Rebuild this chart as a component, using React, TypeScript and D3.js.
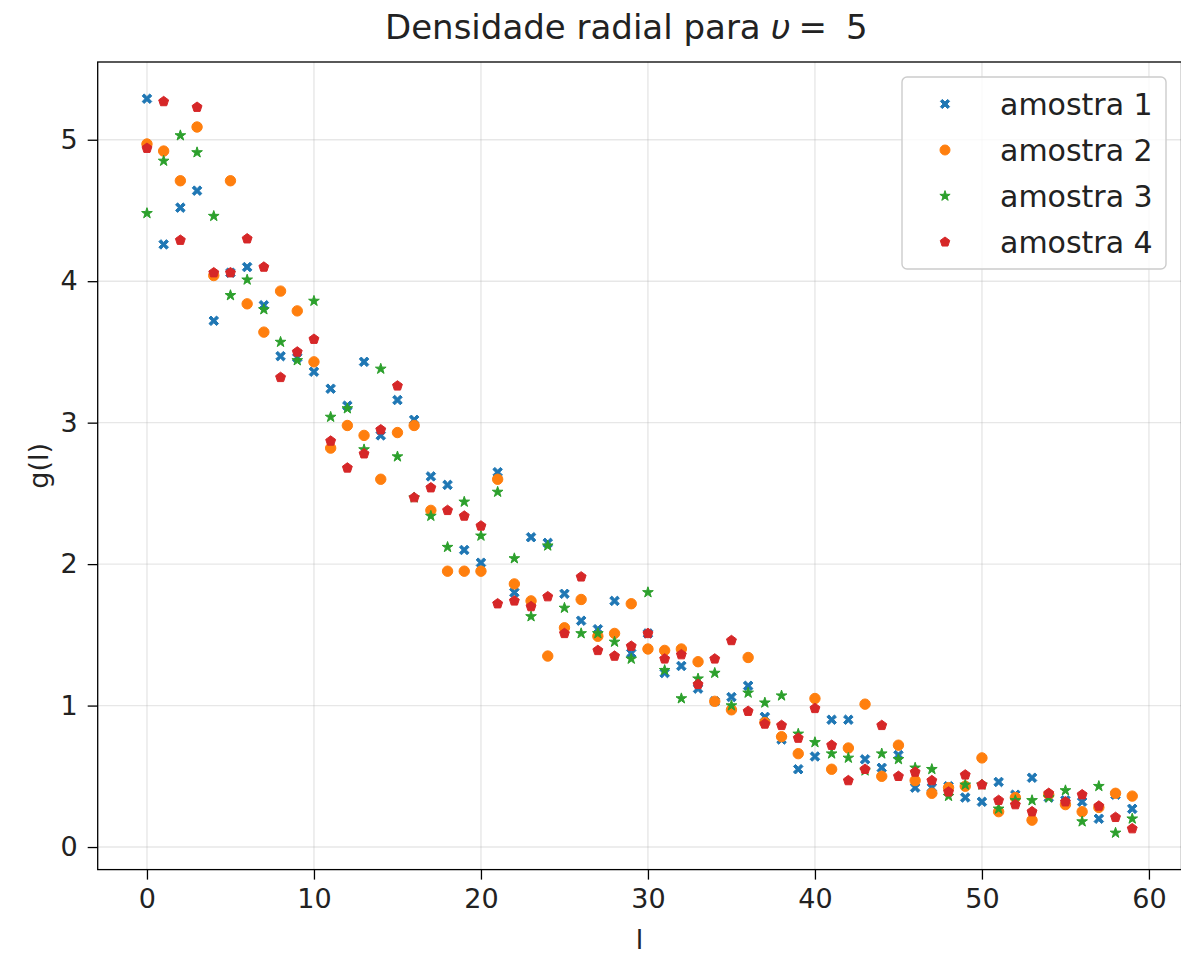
import React, { useEffect, useRef } from 'react';
import * as d3 from 'd3';

const W = 1181;
const H = 955;

// l values (x axis)
const lValues = [
  0, 1, 2, 3, 4, 5, 6, 7, 8, 9, 10, 11, 12, 13, 14, 15, 16, 17, 18, 19,
  20, 21, 22, 23, 24, 25, 26, 27, 28, 29, 30, 31, 32, 33, 34, 35, 36, 37, 38, 39,
  40, 41, 42, 43, 44, 45, 46, 47, 48, 49, 50, 51, 52, 53, 54, 55, 56, 57, 58, 59,
];

const amostra1 = [
  5.29, 4.26, 4.52, 4.64, 3.72, 4.06, 4.10, 3.83, 3.47, 3.46, 3.36, 3.24, 3.12, 3.43, 2.91, 3.16, 3.02, 2.62, 2.56, 2.10,
  2.01, 2.65, 1.80, 2.19, 2.15, 1.79, 1.60, 1.54, 1.74, 1.37, 1.51, 1.23, 1.28, 1.12, 1.03, 1.06, 1.14, 0.92, 0.76, 0.55,
  0.64, 0.90, 0.90, 0.62, 0.56, 0.65, 0.42, 0.42, 0.43, 0.35, 0.32, 0.46, 0.37, 0.49, 0.35, 0.33, 0.32, 0.20, 0.37, 0.27,
];

const amostra2 = [
  4.97, 4.92, 4.71, 5.09, 4.04, 4.71, 3.84, 3.64, 3.93, 3.79, 3.43, 2.82, 2.98, 2.91, 2.60, 2.93, 2.98, 2.38, 1.95, 1.95,
  1.95, 2.60, 1.86, 1.74, 1.35, 1.55, 1.75, 1.49, 1.51, 1.72, 1.40, 1.39, 1.40, 1.31, 1.03, 0.97, 1.34, 0.88, 0.78, 0.66,
  1.05, 0.55, 0.70, 1.01, 0.50, 0.72, 0.47, 0.38, 0.42, 0.43, 0.63, 0.25, 0.35, 0.19, 0.37, 0.30, 0.25, 0.28, 0.38, 0.36,
];

const amostra3 = [
  4.48, 4.85, 5.03, 4.91, 4.46, 3.90, 4.01, 3.80, 3.57, 3.44, 3.86, 3.04, 3.10, 2.81, 3.38, 2.76, 2.47, 2.34, 2.12, 2.44,
  2.20, 2.51, 2.04, 1.63, 2.13, 1.69, 1.51, 1.51, 1.45, 1.33, 1.80, 1.25, 1.05, 1.19, 1.23, 1.00, 1.09, 1.02, 1.07, 0.80,
  0.74, 0.66, 0.63, 0.54, 0.66, 0.62, 0.56, 0.55, 0.36, 0.44, 0.44, 0.27, 0.33, 0.33, 0.35, 0.40, 0.18, 0.43, 0.10, 0.20,
];

const amostra4 = [
  4.94, 5.27, 4.29, 5.23, 4.06, 4.06, 4.30, 4.10, 3.32, 3.50, 3.59, 2.87, 2.68, 2.78, 2.95, 3.26, 2.47, 2.54, 2.38, 2.34,
  2.27, 1.72, 1.74, 1.70, 1.77, 1.51, 1.91, 1.39, 1.35, 1.42, 1.51, 1.33, 1.36, 1.15, 1.33, 1.46, 0.96, 0.87, 0.86, 0.77,
  0.98, 0.72, 0.47, 0.55, 0.86, 0.50, 0.53, 0.47, 0.39, 0.51, 0.44, 0.33, 0.30, 0.25, 0.38, 0.32, 0.37, 0.29, 0.21, 0.13,
];

const seriesNames = ['amostra 1', 'amostra 2', 'amostra 3', 'amostra 4'];
const seriesValues = [amostra1, amostra2, amostra3, amostra4];
const seriesColors = ['#1f77b4', '#ff7f0e', '#2ca02c', '#d62728'];
const seriesMarkers = ['X', 'o', '*', 'p'];

const xTicks = [0, 10, 20, 30, 40, 50, 60];
const yTicks = [0, 1, 2, 3, 4, 5];

const FONT = 'DejaVu Sans, sans-serif';

// marker path, centred at 0,0
function markerPath(kind: string, r: number): string {
  const closed = d3.line().curve(d3.curveLinearClosed);
  if (kind === 'o') {
    const p = d3.path();
    p.arc(0, 0, r, 0, 2 * Math.PI);
    return p.toString();
  }
  if (kind === 'p') {
    const pts: [number, number][] = d3.range(5).map(i => {
      const a = -Math.PI / 2 + (i * 2 * Math.PI) / 5;
      return [r * Math.cos(a), r * Math.sin(a)];
    });
    return closed(pts) as string;
  }
  if (kind === '*') {
    const inner = r * 0.42;
    const pts: [number, number][] = d3.range(10).map(i => {
      const a = -Math.PI / 2 + (i * Math.PI) / 5;
      const rr = i % 2 === 0 ? r * 1.08 : inner;
      return [rr * Math.cos(a), rr * Math.sin(a)];
    });
    return closed(pts) as string;
  }
  // filled X
  const s = r * 0.92;
  const t = s * 0.42;
  const pts: [number, number][] = [
    [-s, -s + t], [-s + t, -s], [0, -t], [s - t, -s], [s, -s + t], [t, 0],
    [s, s - t], [s - t, s], [0, t], [-s + t, s], [-s, s - t], [-t, 0],
  ];
  return closed(pts) as string;
}

const App = () => {
  const svgRef = useRef<SVGSVGElement | null>(null);

  useEffect(() => {
    const svg = d3.select(svgRef.current);
    svg.selectAll('*').remove();

    // matplotlib-style 5% margins
    const xExt = d3.extent(lValues) as [number, number];
    const allY = seriesValues.flat();
    const yExt = d3.extent(allY) as [number, number];
    const xPad = (xExt[1] - xExt[0]) * 0.05;
    const yPad = (yExt[1] - yExt[0]) * 0.05;

    const left = 97.7, right = 1181.5, top = 62, bottom = 869.6;

    const x = d3.scaleLinear().domain([xExt[0] - xPad, xExt[1] + xPad]).range([left, right]);
    const y = d3.scaleLinear().domain([yExt[0] - yPad, yExt[1] + yPad]).range([bottom, top]);

    svg.append('rect').attr('width', W).attr('height', H).attr('fill', '#fff');

    // grid
    const grid = svg.append('g').attr('stroke', '#b0b0b0').attr('stroke-opacity', 0.3).attr('stroke-width', 1.4);
    grid.selectAll('line.gx').data(xTicks).join('line')
      .attr('x1', d => x(d)).attr('x2', d => x(d)).attr('y1', top).attr('y2', bottom);
    grid.selectAll('line.gy').data(yTicks).join('line')
      .attr('x1', left).attr('x2', right).attr('y1', d => y(d)).attr('y2', d => y(d));

    // points
    seriesValues.forEach((vals, si) => {
      const path = markerPath(seriesMarkers[si], 5.2);
      svg.append('g')
        .selectAll('path')
        .data(vals)
        .join('path')
        .attr('d', path)
        .attr('transform', (d, i) => `translate(${x(lValues[i])},${y(d)})`)
        .attr('fill', seriesColors[si])
        .attr('stroke', seriesColors[si])
        .attr('stroke-width', 1);
    });

    // axes
    const xAxis = svg.append('g').attr('transform', `translate(0,${bottom})`)
      .call(d3.axisBottom(x).tickValues(xTicks).tickSize(10).tickPadding(9).tickFormat(d3.format('d')));
    const yAxis = svg.append('g').attr('transform', `translate(${left},0)`)
      .call(d3.axisLeft(y).tickValues(yTicks).tickSize(10).tickPadding(10).tickFormat(d3.format('d')));
    [xAxis, yAxis].forEach(a => {
      a.select('.domain').remove();
      a.selectAll('line').attr('stroke', '#000').attr('stroke-width', 1.3);
      a.selectAll('text').attr('font-family', FONT).attr('font-size', 27).attr('fill', '#222');
    });

    // spines
    svg.append('rect')
      .attr('x', left).attr('y', top).attr('width', right - left).attr('height', bottom - top)
      .attr('fill', 'none').attr('stroke', '#000').attr('stroke-width', 1.3);

    // title (mathtext-like spacing round the "=")
    const title = svg.append('text')
      .attr('x', 385).attr('y', 38.5)
      .attr('font-family', FONT).attr('font-size', 34).attr('fill', '#222');
    title.append('tspan').text('Densidade radial para');
    title.append('tspan').attr('dx', 10).attr('font-style', 'italic').text('υ');
    title.append('tspan').attr('dx', 8).text('=');
    title.append('tspan').attr('dx', 19).text('5');

    svg.append('text')
      .attr('x', (left + right) / 2).attr('y', 949)
      .attr('text-anchor', 'middle')
      .attr('font-family', FONT).attr('font-size', 27).attr('fill', '#222')
      .text('l');

    svg.append('text')
      .attr('transform', `translate(48,${(top + bottom) / 2}) rotate(-90)`)
      .attr('text-anchor', 'middle')
      .attr('font-family', FONT).attr('font-size', 27).attr('fill', '#222')
      .text('g(l)');

    // legend
    const lg = svg.append('g');
    lg.append('rect')
      .attr('x', 902).attr('y', 77).attr('width', 264).attr('height', 192)
      .attr('rx', 5).attr('fill', '#fff').attr('fill-opacity', 0.8)
      .attr('stroke', '#cccccc').attr('stroke-width', 1.4);
    seriesNames.forEach((name, i) => {
      const cy = 104 + i * 46;
      lg.append('path')
        .attr('d', markerPath(seriesMarkers[i], 5))
        .attr('transform', `translate(945,${cy})`)
        .attr('fill', seriesColors[i]).attr('stroke', seriesColors[i]).attr('stroke-width', 1);
      lg.append('text')
        .attr('x', 1000).attr('y', cy).attr('dy', '0.36em')
        .attr('font-family', FONT).attr('font-size', 30).attr('fill', '#222')
        .text(name);
    });
  }, []);

  return (
    <svg ref={svgRef} width={W} height={H} style={{ position: 'absolute', left: 0, top: 0 }} />
  );
};

export default App;
